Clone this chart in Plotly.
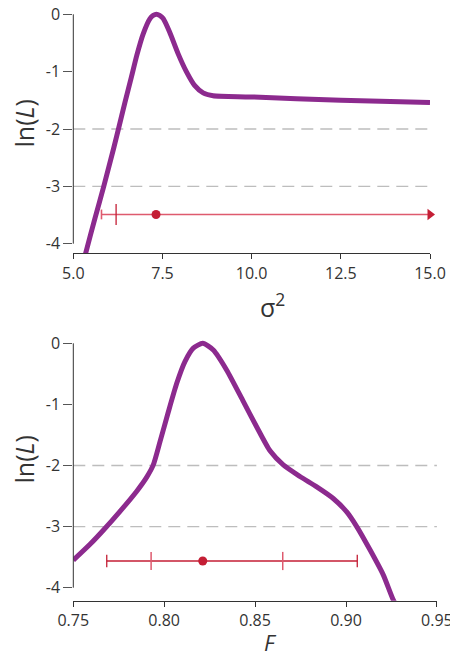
import plotly.graph_objects as go

# ---------------- data ----------------
# top panel: ln(L) profile vs sigma^2
sig2 = [5.30, 5.355, 5.607, 5.85, 6.13, 6.27, 6.45, 6.63, 6.78, 6.96, 7.15, 7.24, 7.33,
        7.42, 7.52, 7.70, 7.94, 8.17, 8.40, 8.64, 8.92, 9.95, 12.5, 15.0]
lnL_sig2 = [-4.29, -4.145, -3.56, -3.01, -2.34, -1.99, -1.53, -1.09, -0.715, -0.34, -0.075, -0.02, 0.0,
            -0.02, -0.075, -0.31, -0.69, -1.0, -1.24, -1.37, -1.42, -1.44, -1.50, -1.54]
sig2_best = 7.32
sig2_ci_outer_lo = 5.79
sig2_ci_inner_lo = 6.20
sig2_ci_hi = 15.0          # open-ended (arrow)
sig2_bar_level = -3.49

# bottom panel: ln(L) profile vs F
F_vals = [0.75, 0.7592, 0.7665, 0.7757, 0.7849, 0.7904, 0.7940, 0.7977, 0.8023, 0.8069,
          0.8114, 0.8160, 0.8212, 0.8270, 0.8344, 0.8435, 0.8509, 0.8582,
          0.8655, 0.8747, 0.8839, 0.8930, 0.9004, 0.9059, 0.9132, 0.9205, 0.9260, 0.9285]
lnL_F = [-3.55, -3.29, -3.06, -2.75, -2.42, -2.19, -1.99, -1.61, -1.12, -0.655,
         -0.30, -0.08, 0.0, -0.11, -0.44, -0.95, -1.37, -1.76,
         -1.99, -2.18, -2.35, -2.54, -2.76, -3.00, -3.38, -3.79, -4.20, -4.33]
F_best = 0.8212
F_ci_outer = [0.7684, 0.9062]
F_ci_inner = [0.7928, 0.8652]
F_bar_level = -3.563

# axis ticks
y_ticks = [0, -1, -2, -3, -4]
y_ticktext = ["0", "-1", "-2", "-3", "-4"]
sig2_ticks = [5.0, 7.5, 10.0, 12.5, 15.0]
sig2_ticktext = ["5.0", "7.5", "10.0", "12.5", "15.0"]
F_ticks = [0.75, 0.80, 0.85, 0.90, 0.95]
F_ticktext = ["0.75", "0.80", "0.85", "0.90", "0.95"]
ref_levels = [-2, -3]

# ---------------- style ----------------
W, H = 450, 657
FONT = "Open Sans"
PURPLE = "#8C2A8E"
RED = "#C41E35"
PINK = "#DE5A6E"
GRID = "#BDBDBD"
AX = "#333333"

fig = go.Figure()

# purple profile curves
fig.add_trace(go.Scatter(x=sig2, y=lnL_sig2, mode="lines", xaxis="x", yaxis="y",
                         line=dict(color=PURPLE, width=5, shape="spline", smoothing=0.6),
                         hoverinfo="skip"))
fig.add_trace(go.Scatter(x=F_vals, y=lnL_F, mode="lines", xaxis="x2", yaxis="y2",
                         line=dict(color=PURPLE, width=5, shape="spline", smoothing=0.6),
                         hoverinfo="skip"))

# ---- top error bar ----
fig.add_trace(go.Scatter(x=[sig2_ci_outer_lo, sig2_ci_hi - 0.05], y=[sig2_bar_level] * 2,
                         mode="lines", xaxis="x", yaxis="y",
                         line=dict(color=PINK, width=1.4), hoverinfo="skip"))
fig.add_trace(go.Scatter(x=[sig2_ci_hi], y=[sig2_bar_level], mode="markers",
                         xaxis="x", yaxis="y", cliponaxis=False,
                         marker=dict(symbol="triangle-right", size=10, color=RED,
                                     line=dict(width=0)), hoverinfo="skip"))
fig.add_trace(go.Scatter(x=[sig2_ci_outer_lo], y=[sig2_bar_level], mode="markers",
                         xaxis="x", yaxis="y", cliponaxis=False,
                         marker=dict(symbol="line-ns", size=7, line=dict(color=PINK, width=1.6)),
                         hoverinfo="skip"))
fig.add_trace(go.Scatter(x=[sig2_ci_inner_lo], y=[sig2_bar_level], mode="markers",
                         xaxis="x", yaxis="y", cliponaxis=False,
                         marker=dict(symbol="line-ns", size=15, line=dict(color=RED, width=1.3)),
                         hoverinfo="skip"))
fig.add_trace(go.Scatter(x=[sig2_best], y=[sig2_bar_level], mode="markers",
                         xaxis="x", yaxis="y", cliponaxis=False,
                         marker=dict(symbol="circle", size=9, color=RED, line=dict(width=0)),
                         hoverinfo="skip"))

# ---- bottom error bar ----
fig.add_trace(go.Scatter(x=F_ci_outer, y=[F_bar_level] * 2, mode="lines",
                         xaxis="x2", yaxis="y2",
                         line=dict(color=RED, width=1.4), hoverinfo="skip"))
fig.add_trace(go.Scatter(x=F_ci_outer, y=[F_bar_level] * 2, mode="markers",
                         xaxis="x2", yaxis="y2", cliponaxis=False,
                         marker=dict(symbol="line-ns", size=9, line=dict(color=RED, width=1.3)),
                         hoverinfo="skip"))
fig.add_trace(go.Scatter(x=F_ci_inner, y=[F_bar_level] * 2, mode="markers",
                         xaxis="x2", yaxis="y2", cliponaxis=False,
                         marker=dict(symbol="line-ns", size=13, line=dict(color=PINK, width=1.5)),
                         hoverinfo="skip"))
fig.add_trace(go.Scatter(x=[F_best], y=[F_bar_level], mode="markers",
                         xaxis="x2", yaxis="y2", cliponaxis=False,
                         marker=dict(symbol="circle", size=9, color=RED, line=dict(width=0)),
                         hoverinfo="skip"))

# ---------------- layout ----------------
tickfont = dict(family=FONT, size=16, color=AX)

def xax(domain, rng, tv, tt, anchor):
    return dict(domain=domain, range=rng, anchor=anchor, tickvals=tv, ticktext=tt,
                showline=True, linecolor=AX, linewidth=1, ticks="outside", ticklen=5,
                tickwidth=1, tickcolor=AX, showgrid=False, zeroline=False,
                tickfont=tickfont, automargin=False, fixedrange=True,
                ticklabeloverflow="allow")

def yax(domain, rng, anchor):
    return dict(domain=domain, range=rng, anchor=anchor, tickvals=y_ticks, ticktext=y_ticktext,
                showline=False, ticks="outside", ticklen=9, tickwidth=1, tickcolor="#555555",
                showgrid=False, zeroline=False, tickfont=tickfont, automargin=False,
                fixedrange=True, ticklabeloverflow="allow")

top_x_dom = [73.3 / W, 430.0 / W]
top_y_dom = [1 - 253.3 / H, 1 - 10.0 / H]
bot_x_dom = [73.3 / W, 436.9 / W]
bot_y_dom = [1 - 600.7 / H, 1 - 339.0 / H]

shapes = []
for yref in ["y", "y2"]:
    xref = "x domain" if yref == "y" else "x2 domain"
    # y axis line from 0 to -4
    shapes.append(dict(type="line", xref=xref, yref=yref, x0=0, x1=0, y0=0, y1=-4,
                       line=dict(color=AX, width=1)))
    for lv in ref_levels:
        shapes.append(dict(type="line", xref=xref, yref=yref, x0=0, x1=1, y0=lv, y1=lv,
                           layer="below", line=dict(color=GRID, width=1.3, dash="12px,7px")))

annotations = [
    dict(text="σ<sup>2</sup>", xref="paper", yref="paper", x=272 / W, y=1 - 305 / H,
         xanchor="center", yanchor="middle", showarrow=False,
         font=dict(family=FONT, size=25, color=AX)),
    dict(text="<i>F</i>", xref="paper", yref="paper", x=270 / W, y=1 - 642 / H,
         xanchor="center", yanchor="middle", showarrow=False,
         font=dict(family=FONT, size=22, color=AX)),
    dict(text="ln(<i>L</i>)", xref="paper", yref="paper", x=23.5 / W, y=1 - 124 / H,
         xanchor="center", yanchor="middle", textangle=-90, showarrow=False,
         font=dict(family=FONT, size=25, color=AX)),
    dict(text="ln(<i>L</i>)", xref="paper", yref="paper", x=23.5 / W, y=1 - 460 / H,
         xanchor="center", yanchor="middle", textangle=-90, showarrow=False,
         font=dict(family=FONT, size=25, color=AX)),
]

fig.update_layout(
    width=W, height=H, margin=dict(l=0, r=0, t=0, b=0, pad=0),
    paper_bgcolor="white", plot_bgcolor="white", showlegend=False,
    template="none", font=dict(family=FONT, color=AX),
    xaxis=xax(top_x_dom, [5.0, 15.0], sig2_ticks, sig2_ticktext, "y"),
    yaxis=yax(top_y_dom, [-4.1674, 0.075], "x"),
    xaxis2=xax(bot_x_dom, [0.75, 0.95], F_ticks, F_ticktext, "y2"),
    yaxis2=yax(bot_y_dom, [-4.2128, 0.0704], "x2"),
    shapes=shapes, annotations=annotations,
)

fig.write_html("out.html", config={"displayModeBar": False},
               post_script="document.body.style.margin='0px';document.body.style.overflow='hidden';")
